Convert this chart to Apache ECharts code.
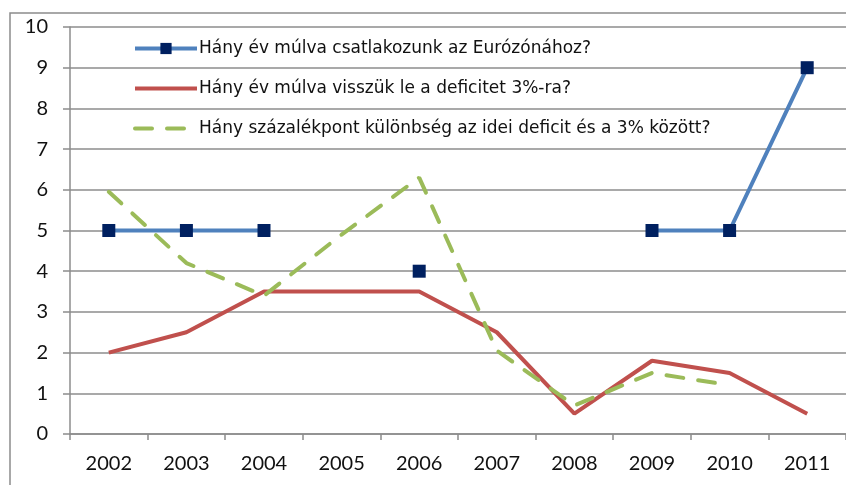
<!DOCTYPE html>
<html>
<head>
<meta charset="utf-8">
<script src="https://cdn.jsdelivr.net/npm/echarts@6/dist/echarts.min.js"></script>
<style>
  html, body { margin: 0; padding: 0; background: #fff; }
  #main { width: 846px; height: 485px; }
</style>
</head>
<body>
<div id="main"></div>
<script>
// évek
const years = ['2002', '2003', '2004', '2005', '2006', '2007', '2008', '2009', '2010', '2011'];
// Hány év múlva csatlakozunk az Eurózónához?
const euroZone = [5, 5, 5, null, 4, null, null, 5, 5, 9];
// Hány év múlva visszük le a deficitet 3%-ra?
const deficitYears = [2, 2.5, 3.5, 3.5, 3.5, 2.5, 0.5, 1.8, 1.5, 0.5];
// Hány százalékpont különbség az idei deficit és a 3% között?
const deficitGap = [5.95, 4.2, 3.4, 4.9, 6.3, 2.05, 0.7, 1.5, 1.2, null];

const seriesNames = [
    'Hány év múlva csatlakozunk az Eurózónához?',
    'Hány év múlva visszük le a deficitet 3%-ra?',
    'Hány százalékpont különbség az idei deficit és a 3% között?'
];

const font = 'Lato, "Open Sans", sans-serif';
const legendFont = '"DejaVu Sans", sans-serif';
const gridColor = '#8c8c8c';

const myChart = echarts.init(document.getElementById('main'), null, {renderer: 'canvas'});
myChart.setOption({
    animation: false,
    backgroundColor: '#fff',
    textStyle: {fontFamily: font},
    graphic: [
        {
            type: 'rect',
            shape: {x: 10, y: 13, width: 900, height: 600},
            style: {fill: 'none', stroke: '#8c8c8c', lineWidth: 1.5},
            z: -1
        }
    ],
    grid: {left: 70, top: 27, right: -1, bottom: 51, containLabel: false},
    legend: {
        orient: 'vertical',
        left: 133,
        top: 40,
        padding: 0,
        itemWidth: 62,
        itemHeight: 14,
        itemGap: 23,
        lineStyle: {width: 4},
        textStyle: {fontSize: 17, color: '#111', fontFamily: legendFont, padding: [0, 0, 0, -3]},
        data: [
            {name: seriesNames[0]},
            {name: seriesNames[1], itemStyle: {opacity: 0}},
            {name: seriesNames[2], itemStyle: {opacity: 0}}
        ]
    },
    xAxis: {
        type: 'category',
        data: years,
        boundaryGap: true,
        axisLine: {lineStyle: {color: gridColor, width: 1.5}},
        axisTick: {show: true, length: 6, lineStyle: {color: gridColor, width: 1.5}},
        axisLabel: {fontSize: 20, color: '#111', margin: 20, fontFamily: font}
    },
    yAxis: {
        type: 'value',
        min: 0,
        max: 10,
        interval: 1,
        axisLine: {show: true, lineStyle: {color: gridColor, width: 1.5}},
        axisTick: {show: true, length: 7, lineStyle: {color: gridColor, width: 1.5}},
        splitLine: {lineStyle: {color: gridColor, width: 1.5}},
        axisLabel: {fontSize: 20, color: '#111', margin: 22, fontFamily: font}
    },
    series: [
        {
            name: seriesNames[0],
            type: 'line',
            data: euroZone,
            connectNulls: false,
            symbol: 'rect',
            symbolSize: 13,
            showSymbol: true,
            itemStyle: {color: '#002060', borderWidth: 0},
            lineStyle: {color: '#4F81BD', width: 4},
            z: 5
        },
        {
            name: seriesNames[1],
            type: 'line',
            data: deficitYears,
            symbol: 'none',
            itemStyle: {color: '#C0504D'},
            lineStyle: {color: '#C0504D', width: 4},
            z: 3
        },
        {
            name: seriesNames[2],
            type: 'line',
            data: deficitGap,
            connectNulls: false,
            symbol: 'none',
            itemStyle: {color: '#9BBB59'},
            lineStyle: {color: '#9BBB59', width: 4, type: [17, 15], cap: 'round'},
            z: 4
        }
    ]
});
</script>
</body>
</html>
